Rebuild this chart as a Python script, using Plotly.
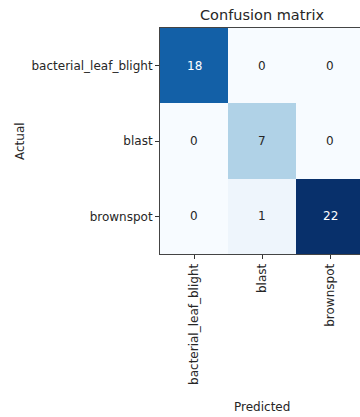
import plotly.graph_objects as go

# Confusion matrix data
classes = ["bacterial_leaf_blight", "blast", "brownspot"]
counts = [
    [18, 0, 0],
    [0, 7, 0],
    [0, 1, 22],
]

# matplotlib-style "Blues" colour ramp
blues = [
    [0.0, "#f7fbff"], [0.125, "#deebf7"], [0.25, "#c6dbef"],
    [0.375, "#9ecae1"], [0.5, "#6baed6"], [0.625, "#4292c6"],
    [0.75, "#2171b5"], [0.875, "#08519c"], [1.0, "#08306b"],
]

FONT = "DejaVu Sans"
TXT = "#262626"
zmax = max(max(r) for r in counts)

fig = go.Figure(go.Heatmap(
    z=counts, x=classes, y=classes,
    colorscale=blues, zmin=0, zmax=zmax,
    showscale=False, hoverinfo="skip",
))

annotations = []
for i, row in enumerate(counts):
    for j, v in enumerate(row):
        annotations.append(dict(
            x=classes[j], y=classes[i], text=str(v), showarrow=False,
            font=dict(family=FONT, size=12,
                      color="white" if v > zmax / 2 else TXT),
        ))

# axis titles
annotations.append(dict(text="Actual", xref="paper", yref="paper",
                        x=-0.7, y=0.5, xanchor="center", yanchor="middle",
                        textangle=-90, showarrow=False,
                        font=dict(family=FONT, size=12, color=TXT)))
annotations.append(dict(text="Predicted", xref="paper", yref="paper",
                        x=0.51, y=-0.677, xanchor="center", yanchor="middle",
                        showarrow=False,
                        font=dict(family=FONT, size=12, color=TXT)))

fig.update_layout(
    width=360, height=417,
    margin=dict(l=160, r=0, t=28, b=163),
    paper_bgcolor="white", plot_bgcolor="white",
    font=dict(family=FONT, size=12, color=TXT),
    title=dict(text="Confusion matrix", x=0.51, xref="paper", xanchor="center",
               y=(417 - 15) / 417, yanchor="middle", yref="container",
               font=dict(family=FONT, size=14.5, color=TXT)),
    annotations=annotations,
)

fig.update_xaxes(
    range=[-0.5, 2.44], tickangle=-90, ticks="outside", ticklen=4,
    tickcolor="#333", showline=True, linecolor="#444", linewidth=1,
    mirror=True, showgrid=False, zeroline=False,
    tickfont=dict(family=FONT, size=12, color=TXT),
)
fig.update_yaxes(
    autorange="reversed", ticks="outside", ticklen=4, tickcolor="#333",
    showline=True, linecolor="#444", linewidth=1, showgrid=False,
    zeroline=False, tickfont=dict(family=FONT, size=12, color=TXT),
)

fig.write_html("out.html")
